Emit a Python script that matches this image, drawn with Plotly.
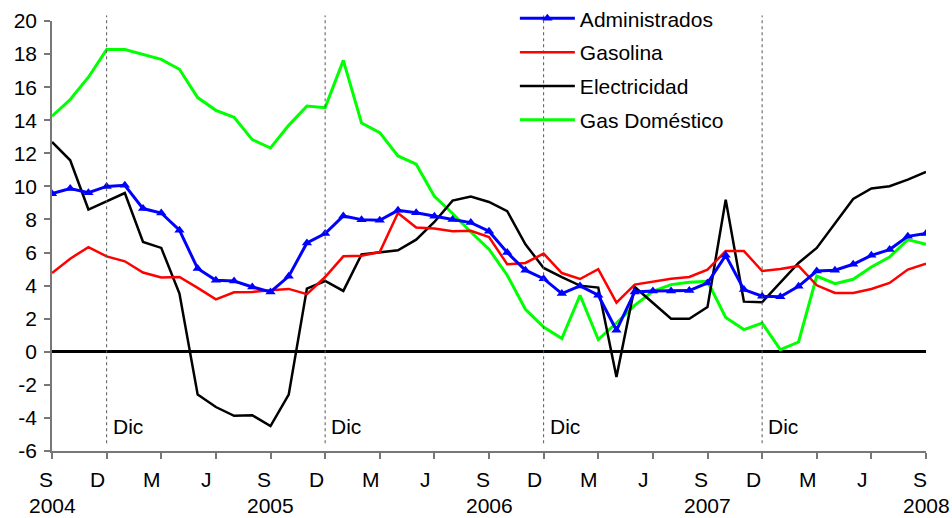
import plotly.graph_objects as go

# ---- data (monthly, Sep 2004 .. Sep 2008) ----
month_names = ["Ene", "Feb", "Mar", "Abr", "May", "Jun", "Jul", "Ago", "Sep", "Oct", "Nov", "Dic"]
months = []
_y, _m = 2004, 8
for _ in range(49):
    months.append(f"{month_names[_m]} {_y}")
    _m += 1
    if _m == 12:
        _m, _y = 0, _y + 1

administrados = [9.56, 9.87, 9.62, 10.0, 10.07, 8.66, 8.39, 7.35, 5.03, 4.32, 4.28, 3.92, 3.62,
                 4.56, 6.58, 7.15, 8.21, 7.99, 7.95, 8.55, 8.41, 8.19, 8.0, 7.81, 7.29, 6.0,
                 4.93, 4.42, 3.52, 3.98, 3.42, 1.3, 3.62, 3.68, 3.68, 3.7, 4.16, 5.83, 3.76,
                 3.36, 3.32, 3.96, 4.88, 4.93, 5.29, 5.83, 6.18, 6.98, 7.15]
gasolina = [4.76, 5.63, 6.33, 5.77, 5.47, 4.79, 4.49, 4.52, 3.86, 3.17, 3.6, 3.62, 3.72,
            3.8, 3.48, 4.52, 5.77, 5.81, 6.03, 8.39, 7.51, 7.45, 7.29, 7.32, 6.94, 5.29,
            5.37, 5.94, 4.76, 4.4, 4.99, 2.97, 4.06, 4.22, 4.42, 4.52, 4.97, 6.09, 6.09,
            4.88, 5.0, 5.19, 4.02, 3.56, 3.56, 3.8, 4.16, 4.97, 5.33]
electricidad = [12.69, 11.58, 8.6, 9.1, 9.6, 6.64, 6.28, 3.52, -2.59, -3.34, -3.87, -3.84, -4.49,
                -2.59, 3.82, 4.28, 3.68, 5.88, 6.0, 6.14, 6.78, 7.85, 9.14, 9.38, 9.06, 8.5,
                6.5, 5.07, 4.52, 4.0, 3.88, -1.52, 3.92, 2.97, 2.0, 2.0, 2.71, 9.2, 3.03,
                2.99, 4.18, 5.37, 6.28, 7.79, 9.24, 9.87, 10.01, 10.41, 10.87]
gas_domestico = [14.24, 15.25, 16.6, 18.27, 18.27, 17.99, 17.68, 17.08, 15.37, 14.6, 14.18, 12.83, 12.32,
                 13.69, 14.86, 14.76, 17.62, 13.83, 13.25, 11.84, 11.34, 9.4, 8.36, 7.24, 6.2, 4.63,
                 2.57, 1.5, 0.8, 3.42, 0.74, 1.74, 2.81, 3.66, 4.06, 4.2, 4.26, 2.07, 1.34,
                 1.74, 0.13, 0.59, 4.58, 4.12, 4.38, 5.13, 5.73, 6.78, 6.5]

tick_letters = ["S", "D", "M", "J"] * 4 + ["S"]
tick_years = ["2004", "2005", "2006", "2007", "2008"]
y_ticks = list(range(-6, 21, 2))
y_tick_text = [str(v) for v in y_ticks]  # hyphen-minus as in the original
marker_label = "Dic"

# ---- figure ----
x = list(range(len(months)))
tick_pos = list(range(0, len(months), 3))
year_pos = list(range(0, len(months), 12))
dic_pos = [i for i, m in enumerate(months) if m.startswith("Dic")]

FONT = "Arial, Liberation Sans, sans-serif"
FS = 21

fig = go.Figure()
fig.add_trace(go.Scatter(x=x, y=gas_domestico, name="Gas Doméstico", mode="lines",
                         line=dict(color="#00FF00", width=3), legendrank=4, legendgroup="d"))
fig.add_trace(go.Scatter(x=x, y=electricidad, name="Electricidad", mode="lines",
                         line=dict(color="#000000", width=2.5), legendrank=3, legendgroup="c"))
fig.add_trace(go.Scatter(x=x, y=gasolina, name="Gasolina", mode="lines",
                         line=dict(color="#FF0000", width=2.5), legendrank=2, legendgroup="b"))
fig.add_trace(go.Scatter(x=x, y=administrados, name="Administrados", mode="lines+markers",
                         line=dict(color="#0000FF", width=3),
                         marker=dict(symbol="triangle-up", size=9, color="#0000FF"),
                         legendrank=1, legendgroup="a"))

for p in dic_pos:
    fig.add_shape(type="line", xref="x", yref="paper", x0=p, x1=p, y0=0.018, y1=1.013,
                  line=dict(color="#555555", width=1, dash="dot"))
    fig.add_annotation(x=p, y=-4.5, xref="x", yref="y", text=marker_label, showarrow=False,
                       xanchor="left", yanchor="middle", xshift=4,
                       font=dict(size=FS, color="black", family=FONT))

# month-letter tick labels (slightly left of the tick, as in the original)
for p, lab in zip(tick_pos, tick_letters):
    fig.add_annotation(x=p, y=-0.066, xref="x", yref="paper", text=lab, showarrow=False,
                       xanchor="center", yanchor="middle",
                       xshift=-6.5 if lab == "S" else -9,
                       font=dict(size=FS, color="black", family=FONT))
# year labels
for p, lab in zip(year_pos, tick_years):
    fig.add_annotation(x=p, y=-0.127, xref="x", yref="paper", text=lab, showarrow=False,
                       xanchor="center", yanchor="middle",
                       font=dict(size=FS, color="black", family=FONT))

fig.update_layout(
    width=952, height=518,
    margin=dict(l=52, r=26, t=21, b=67, autoexpand=False),
    paper_bgcolor="white", plot_bgcolor="white",
    font=dict(family=FONT, size=FS, color="black"),
    showlegend=True,
    legend=dict(x=0.5296, y=1.053, xanchor="left", yanchor="top", bgcolor="rgba(0,0,0,0)",
                font=dict(size=FS), tracegroupgap=3.5, traceorder="grouped", itemwidth=55),
    xaxis=dict(range=[0, 48], tickvals=tick_pos, showticklabels=False, ticks="outside",
               ticklen=6, tickcolor="#777777", tickwidth=1.5, showline=True,
               linecolor="#777777", linewidth=1.5, showgrid=False, zeroline=False,
               automargin=False),
    yaxis=dict(range=[-6, 20], tickvals=y_ticks, ticktext=y_tick_text, ticks="outside",
               ticklen=6, tickcolor="#777777", tickwidth=1.5, showline=True,
               linecolor="#777777", linewidth=1.5, showgrid=False, zeroline=True,
               zerolinecolor="black", zerolinewidth=2.5, tickfont=dict(size=FS),
               ticklabelstandoff=3, automargin=False),
)

# drop the browser's default 8px page margin so the 952x518 figure fills the window
fig.write_html("out.html", config={"displayModeBar": False},
               post_script="document.body.style.margin='0';document.body.style.overflow='hidden';")
